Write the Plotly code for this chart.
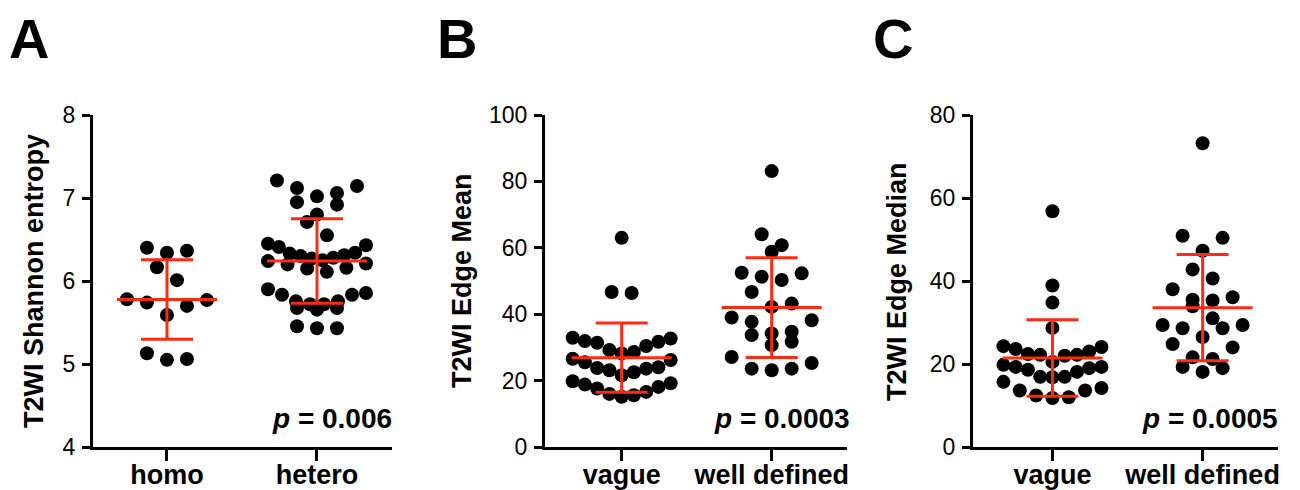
import numpy as np
import plotly.graph_objects as go

# ---------------- data ----------------
cats_a = ["homo", "hetero"]
homo = [6.365, 6.34, 6.40, 6.165, 6.01, 5.77, 5.70, 5.59, 5.74, 5.78, 5.13, 5.05, 5.06]
hetero = [7.21, 7.145, 7.12, 7.06, 7.02, 6.95, 6.92, 6.80, 6.71, 6.55, 6.45, 6.43, 6.41,
          6.34, 6.31, 6.28, 6.25, 6.21, 6.16, 6.11, 6.15, 6.20, 6.24, 6.27, 6.30, 6.33,
          5.90, 5.855, 5.835, 5.835, 5.755, 5.72, 5.675, 5.655, 5.675, 5.72, 5.755,
          5.455, 5.43, 5.43]

cats_bc = ["vague", "well defined"]
mean_vague = [63.0, 46.7, 46.4, 32.9, 32.7, 31.9, 31.7, 31.4, 30.4, 29.2, 28.6, 28.2,
              26.6, 26.2, 25.5, 24.0, 23.8, 23.6, 23.1, 22.5, 21.6,
              19.8, 19.2, 18.8, 18.1, 17.6, 16.6, 16.0, 15.1, 15.6]
mean_well = [83.1, 64.1, 60.8, 58.8, 52.3, 50.3, 51.3, 52.5, 46.7, 43.2, 42.2, 39.0,
             37.7, 38.2, 34.2, 31.7, 30.7, 33.7, 34.7, 27.1, 23.6, 23.1, 23.6, 25.3]

median_vague = [56.8, 38.9, 34.8, 28.7, 24.3, 24.1, 23.6, 23.0, 22.4, 22.2, 22.0, 22.2,
                20.5, 19.8, 19.3, 19.0, 18.6, 18.1, 19.3, 16.9, 16.8, 16.9, 15.7,
                14.2, 13.6, 12.0, 11.8, 12.4, 13.6]
median_well = [73.2, 50.4, 50.9, 47.3, 42.8, 40.6, 38.0, 35.5, 35.3, 36.1, 33.9, 31.0,
               28.6, 29.4, 29.4, 28.6, 26.5, 24.8, 24.0, 21.6, 21.2, 19.3, 18.1, 19.0]

ytitles = ["T2WI Shannon entropy", "T2WI Edge Mean", "T2WI Edge Median"]
pvals = ["0.006", "0.0003", "0.0005"]
letters = ["A", "B", "C"]
yticks_a = [4, 5, 6, 7, 8]
yticks_b = [0, 20, 40, 60, 80, 100]
yticks_c = [0, 20, 40, 60, 80]

# ---------------- layout helpers ----------------
FONT = "Liberation Sans, Arial, Helvetica, sans-serif"
RED = "#FF2A10"
DOT = 14
ydom = [43 / 490, 375 / 490]
panels = [
    dict(vals=[homo, hetero], cats=cats_a, xdom=[93 / 1300, 392 / 1300], xr=[-0.493, 1.5],
         yr=[4, 8], ticks=yticks_a),
    dict(vals=[mean_vague, mean_well], cats=cats_bc, xdom=[545 / 1300, 847 / 1300], xr=[-0.511, 1.502],
         yr=[0, 100], ticks=yticks_b),
    dict(vals=[median_vague, median_well], cats=cats_bc, xdom=[973 / 1300, 1278 / 1300], xr=[-0.529, 1.502],
         yr=[0, 80], ticks=yticks_c),
]
plot_h_px = 332.0


def swarm_offsets(values, px_per_y, px_per_x, row_h=17.0, spacing=20.0, max_w=98.0):
    """Prism-like scatter-dot layout: group values into rows, spread each row horizontally."""
    v = np.asarray(values, float)
    order = np.argsort(-v)
    rows, cur, top = [], [], None
    for i in order:
        if top is None or (top - v[i]) * px_per_y <= row_h:
            if top is None:
                top = v[i]
            cur.append(i)
        else:
            rows.append(cur)
            cur, top = [i], v[i]
    if cur:
        rows.append(cur)
    off = np.zeros(len(v))
    for r in rows:
        n = len(r)
        if n == 1:
            continue
        s = min(spacing, max_w / (n - 1))
        slots = [(k - (n - 1) / 2) * s for k in range(n)]
        slots_sorted = sorted(slots, key=lambda t: -abs(t))
        rs = sorted(r, key=lambda i: -v[i])
        for idx, slot in zip(rs, slots_sorted):
            off[idx] = slot / px_per_x
    return off


fig = go.Figure()
for p_i, P in enumerate(panels):
    xa = "x" if p_i == 0 else f"x{p_i + 1}"
    ya = "y" if p_i == 0 else f"y{p_i + 1}"
    px_per_x = (P["xdom"][1] - P["xdom"][0]) * 1300 / (P["xr"][1] - P["xr"][0])
    px_per_y = plot_h_px / (P["yr"][1] - P["yr"][0])
    for g, vals in enumerate(P["vals"]):
        off = swarm_offsets(vals, px_per_y, px_per_x)
        fig.add_trace(go.Scatter(
            x=g + off, y=vals, mode="markers", xaxis=xa, yaxis=ya,
            marker=dict(size=DOT, color="black", line=dict(width=0)),
            showlegend=False, hoverinfo="y", cliponaxis=False))
    # mean +/- SD bars computed from the data
    lx, ly = [], []
    for g, vals in enumerate(P["vals"]):
        m = float(np.mean(vals))
        sd = float(np.std(vals, ddof=1))
        mw = 50 / px_per_x
        cw = 26 / px_per_x
        lx += [g - mw, g + mw, None, g - cw, g + cw, None, g - cw, g + cw, None, g, g, None]
        ly += [m, m, None, m + sd, m + sd, None, m - sd, m - sd, None, m - sd, m + sd, None]
    fig.add_trace(go.Scatter(x=lx, y=ly, mode="lines", xaxis=xa, yaxis=ya,
                             line=dict(color=RED, width=3), showlegend=False, hoverinfo="skip"))

    axis_common = dict(showline=True, linecolor="black", linewidth=3, showgrid=False,
                       zeroline=False, ticks="outside", tickwidth=3, tickcolor="black",
                       automargin=False, fixedrange=True)
    fig.update_layout(**{
        ("xaxis" if p_i == 0 else f"xaxis{p_i + 1}"): dict(
            domain=P["xdom"], range=P["xr"], tickvals=[0, 1], ticktext=P["cats"],
            ticklen=11, anchor=ya, ticklabelstandoff=-9,
            tickfont=dict(family=FONT, size=27, color="black", weight="bold"), **axis_common),
        ("yaxis" if p_i == 0 else f"yaxis{p_i + 1}"): dict(
            domain=ydom, range=P["yr"], tickvals=P["ticks"], ticklen=8, anchor=xa,
            ticklabelstandoff=2,
            tickfont=dict(family=FONT, size=23, color="black"), **axis_common),
    })
    # y-axis title (rotated text)
    title_x = [34, 462, 897][p_i]
    fig.add_annotation(xref="paper", yref="paper", x=title_x / 1300, y=(490 - 281) / 490,
                       text=f"<b>{ytitles[p_i]}</b>", textangle=-90, showarrow=False,
                       xanchor="center", yanchor="middle",
                       font=dict(family=FONT, size=27, color="black"))
    # p-value
    right_x = [394, 852, 1280][p_i]
    fig.add_annotation(xref="paper", yref="paper", x=right_x / 1300, y=(490 - 418) / 490,
                       text=f"<b><i>p</i> = {pvals[p_i]}</b>", showarrow=False,
                       xanchor="right", yanchor="middle",
                       font=dict(family=FONT, size=28, color="black"))
    # panel letter
    letter_x = [7, 435, 871][p_i]
    fig.add_annotation(xref="paper", yref="paper", x=letter_x / 1300, y=(490 - 5) / 490,
                       text=f"<b>{letters[p_i]}</b>", showarrow=False,
                       xanchor="left", yanchor="top",
                       font=dict(family=FONT, size=56, color="black"))

fig.update_layout(width=1300, height=490, margin=dict(l=0, r=0, t=0, b=0),
                  paper_bgcolor="white", plot_bgcolor="white",
                  font=dict(family=FONT, color="black"))
fig.write_html("out.html", config={"displayModeBar": False},
               post_script="document.body.style.margin='0';document.body.style.overflow='hidden';")
